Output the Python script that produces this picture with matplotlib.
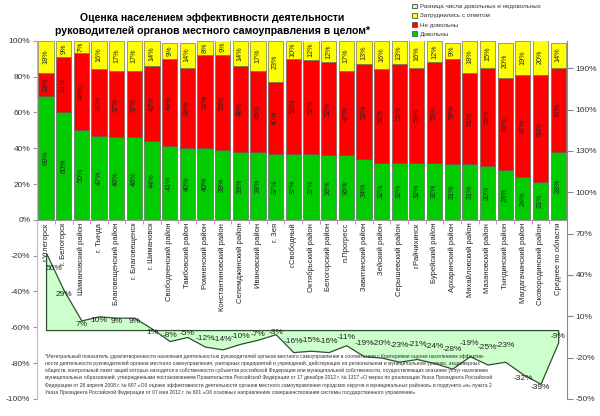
import matplotlib.pyplot as plt
import numpy as np
from matplotlib.patches import Patch

plt.rcParams['font.family'] = ['Liberation Sans', 'DejaVu Sans']

# данные
districts = ['г.Углегорск', 'г. Белогорск', 'Шимановский район', 'г. Тында',
             'Благовещенский район', 'г. Благовещенск', 'г. Шимановск',
             'Свободненский район', 'Тамбовский район', 'Ромненский район',
             'Константиновский район', 'Селемджинский район', 'Ивановский район',
             'г. Зея', 'г.Свободный', 'Октябрьский район', 'Белогорский район',
             'п.Прогресс', 'Завитинский район', 'Зейский район', 'Серышевский район',
             'г.Райчихинск', 'Бурейский район', 'Архаринский район',
             'Михайловский район', 'Мазановский район', 'Тындинский район',
             'Магдагачинский район', 'Сковородинский район', 'Среднее по области']
satisfied = [69, 60, 50, 47, 46, 46, 44, 41, 40, 40, 39, 38, 38, 37, 37,
             37, 36, 36, 34, 32, 32, 32, 32, 31, 31, 30, 28, 24, 21, 38]
dissatisfied = [13, 31, 43, 37, 37, 37, 42, 49, 45, 52, 53, 48, 45, 40, 53,
                52, 52, 47, 53, 52, 55, 53, 56, 59, 51, 55, 51, 57, 60, 47]
undecided = [18, 9, 7, 16, 17, 17, 14, 9, 14, 8, 9, 14, 17, 23, 10,
             12, 12, 17, 13, 16, 13, 16, 12, 9, 18, 15, 20, 19, 20, 14]
difference = [56, 29, 7, 10, 9, 9, 1, -8, -5, -12, -14, -10, -7, -3, -16,
              -15, -16, -11, -19, -20, -23, -21, -24, -28, -19, -25, -23, -32, -39, -9]

footnote = ("*Интегральный показатель удовлетворенности населения деятельностью руководителей органов местного самоуправления в соответствии с Критериями оценки населением эффектив-\n"
            "ности деятельности руководителей органов местного самоуправления, унитарных предприятий и учреждений, действующих на региональном и муниципальном уровнях, акционерных\n"
            "обществ, контрольный пакет акций которых находится в собственности субъектов российской Федерации или муниципальной собственности, осуществляющих оказание услуг населению\n"
            "муниципальных образований, утвержденными постановлением Правительства Российской Федерации от 17 декабря 2012 г. № 1317 «О мерах по реализации Указа Президента Российской\n"
            "Федерации от 28 апреля 2008 г. № 607 «Об оценке эффективности деятельности органов местного самоуправления городских округов и муниципальных районов» и подпункта «и» пункта 2\n"
            "Указа Президента Российской Федерации от 07 мая 2012 г. № 601 «Об основных направлениях совершенствования системы государственного управления»")

GREEN = '#00cc00'
RED = '#ff0000'
YELLOW = '#ffff00'
AREA = '#ccffcc'
EDGE = '#2f4f2f'

x = np.arange(len(districts))
sat = np.array(satisfied)
dis = np.array(dissatisfied)
und = np.array(undecided)
bottom2 = sat + dis

fig = plt.figure(figsize=(6, 4.16), dpi=100)
ax = fig.add_axes([0.062, 0.041, 0.883, 0.861])

w = 0.86
ax.bar(x, sat, w, color=GREEN, edgecolor='#555555', linewidth=0.4)
ax.bar(x, dis, w, bottom=sat, color=RED, edgecolor='#555555', linewidth=0.4)
ax.bar(x, und, w, bottom=bottom2, color=YELLOW, edgecolor='#555555', linewidth=0.4)

for i in x:
    ax.text(i, sat[i] / 2, f'{sat[i]}%', rotation=90, ha='center', va='center', fontsize=5.2, color='#222222')
    ax.text(i, sat[i] + dis[i] / 2, f'{dis[i]}%', rotation=90, ha='center', va='center', fontsize=5.2, color='#222222')
    ax.text(i, bottom2[i] + und[i] / 2, f'{und[i]}%', rotation=90, ha='center', va='center', fontsize=5.2, color='#222222')

ax.set_xlim(-0.5, len(districts) - 0.5)
ax.set_ylim(-100, 100)
ax.set_yticks(np.arange(-100, 101, 20))
ax.set_yticklabels([f'{v}%' for v in range(-100, 101, 20)], fontsize=6, color='#333333')
ax.tick_params(axis='y', length=3, color='#999999', pad=2)

ax.spines['bottom'].set_position(('data', 0))
ax.spines['bottom'].set_color('#999999')
ax.spines['left'].set_color('#bbbbbb')
ax.spines['top'].set_visible(False)
ax.spines['right'].set_visible(False)
ax.set_xticks(x)
ax.set_xticklabels(districts, rotation=90, fontsize=5.5, color='#222222', va='top')
ax.set_xticks(np.arange(-0.5, len(districts), 1), minor=True)
ax.tick_params(axis='x', which='major', length=0, pad=2)
ax.tick_params(axis='x', which='minor', length=3, color='#999999')

# разница на второй оси
ax2 = ax.twinx()
ax2.set_ylim(-50, 210)
ax2.fill_between(x, difference, 0, facecolor=AREA, edgecolor=EDGE, linewidth=0.9, zorder=2)
for i, v in enumerate(difference):
    if i == 0:
        yy = v - 11
    elif v >= 0:
        yy = v - 3
    elif v > -30:
        yy = v / 2
    else:
        yy = v - 3
    ax2.text(i, yy, f'{v}%', ha='left' if i == 0 else 'center', va='center',
             fontsize=6, color='#222222', zorder=4)
ax2.set_yticks(np.arange(-50, 191, 30))
ax2.set_yticklabels([f'{v}%' for v in range(-50, 191, 30)], fontsize=6, color='#333333')
ax2.tick_params(axis='y', length=4, color='#888888', pad=2)
for s in ['top', 'left', 'bottom']:
    ax2.spines[s].set_visible(False)
ax2.spines['right'].set_color('#888888')

fig.text(0.354, 0.968, 'Оценка населением эффективности деятельности\nруководителей органов местного самоуправления в целом*',
         ha='center', va='top', fontsize=7.6, fontweight='bold', linespacing=1.35)

handles = [Patch(facecolor=AREA, edgecolor=EDGE, linewidth=0.6),
           Patch(facecolor=YELLOW, edgecolor='#555555', linewidth=0.6),
           Patch(facecolor=RED, edgecolor='#555555', linewidth=0.6),
           Patch(facecolor=GREEN, edgecolor='#555555', linewidth=0.6)]
labels = ['Разница числа довольных и недовольных', 'Затруднились с ответом', 'Не довольны', 'Довольны']
fig.legend(handles, labels, loc='upper left', bbox_to_anchor=(0.678, 1.005), frameon=False,
           fontsize=4.5, handlelength=0.8, handleheight=0.8, handletextpad=0.4,
           labelspacing=0.6, labelcolor='#333333')

fig.text(0.075, 1 - 354 / 416, footnote, ha='left', va='top', fontsize=3.62,
         color='#333333', linespacing=1.45, zorder=5)

plt.savefig('out.png', dpi=100)
